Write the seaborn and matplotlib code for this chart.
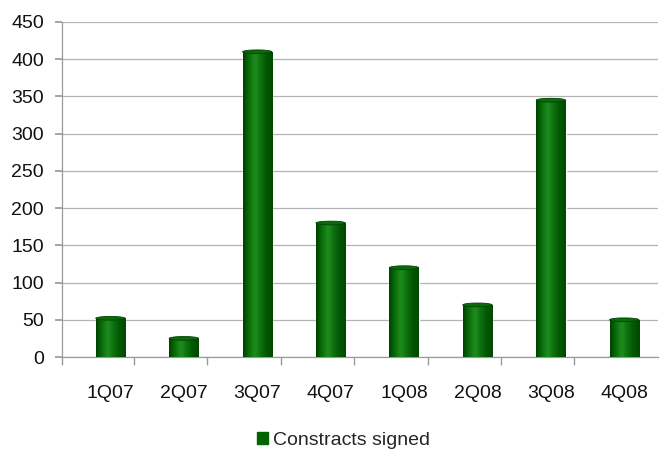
import numpy as np
import pandas as pd
import matplotlib
matplotlib.use("Agg")
import matplotlib.pyplot as plt
from matplotlib.patches import Ellipse, Patch
from matplotlib.colors import LinearSegmentedColormap
import seaborn as sns

quarters = ["1Q07", "2Q07", "3Q07", "4Q07", "1Q08", "2Q08", "3Q08", "4Q08"]
contracts = [52, 25, 410, 180, 120, 70, 345, 50]
y_ticks = [0, 50, 100, 150, 200, 250, 300, 350, 400, 450]
series_name = "Constracts signed"

df = pd.DataFrame({"quarter": quarters, "contracts": contracts})

sns.set_theme(style="white")
plt.rcParams["font.family"] = ["Liberation Sans", "DejaVu Sans"]

fig = plt.figure(figsize=(6.61, 4.5), dpi=100)
ax = fig.add_axes([62 / 661, 93 / 450, 596 / 661, 335 / 450])

sns.barplot(data=df, x="quarter", y="contracts", color="#006400",
            width=0.40, ax=ax, zorder=3, saturation=1)

# cylinder shading: dark edges, lighter band near the middle
cyl = LinearSegmentedColormap.from_list(
    "cyl", ["#003f00", "#0a6e0a", "#1f8c1f", "#0c700c", "#035503", "#004a00"])
grad = np.linspace(0, 1, 256).reshape(1, -1)
cap_h = 5.0
for p in list(ax.patches):
    x0, w, h = p.get_x(), p.get_width(), p.get_height()
    im = ax.imshow(grad, cmap=cyl, aspect="auto", extent=[x0, x0 + w, 0, h],
                   zorder=4, interpolation="bilinear")
    im.set_clip_path(p)
    bottom = Ellipse((x0 + w / 2, 0), w, cap_h, facecolor="#055a05",
                     edgecolor="none", zorder=3.5)
    ax.add_patch(bottom)
    top = Ellipse((x0 + w / 2, h), w, cap_h, facecolor="#0b6a0b",
                  edgecolor="#004500", linewidth=0.6, zorder=5)
    ax.add_patch(top)

ax.set_xlim(-0.66, len(quarters) - 0.54)
ax.set_ylim(0, 450)
ax.set_yticks(y_ticks)
ax.set_xlabel("")
ax.set_ylabel("")
ax.yaxis.grid(True, color="#b3b3b3", linewidth=0.9, zorder=0)
ax.set_axisbelow(True)

for side in ["top", "right"]:
    ax.spines[side].set_visible(False)
for side in ["left", "bottom"]:
    ax.spines[side].set_color("#9a9a9a")
    ax.spines[side].set_linewidth(0.9)

ax.tick_params(axis="y", which="both", left=True, length=5, color="#9a9a9a",
               labelsize=14, pad=8, labelcolor="#111111")
ax.set_xticks(range(len(quarters)))
ax.set_xticklabels(quarters)
ax.tick_params(axis="x", bottom=False, labelsize=14, pad=14,
               labelcolor="#111111")
# category separators along the floor
ax.set_xticks(np.concatenate([[-0.66], np.arange(0.32, len(quarters) - 1, 1.0)]),
              minor=True)
ax.tick_params(axis="x", which="minor", bottom=True, length=6,
               color="#9a9a9a")

handle = Patch(facecolor="#006400", edgecolor="#006400")
fig.legend([handle], [series_name], loc="lower center",
           bbox_to_anchor=(0.52, -0.036), frameon=False, fontsize=14,
           handlelength=0.55, handleheight=0.55, handletextpad=0.3)

fig.savefig("out.png", dpi=100)
